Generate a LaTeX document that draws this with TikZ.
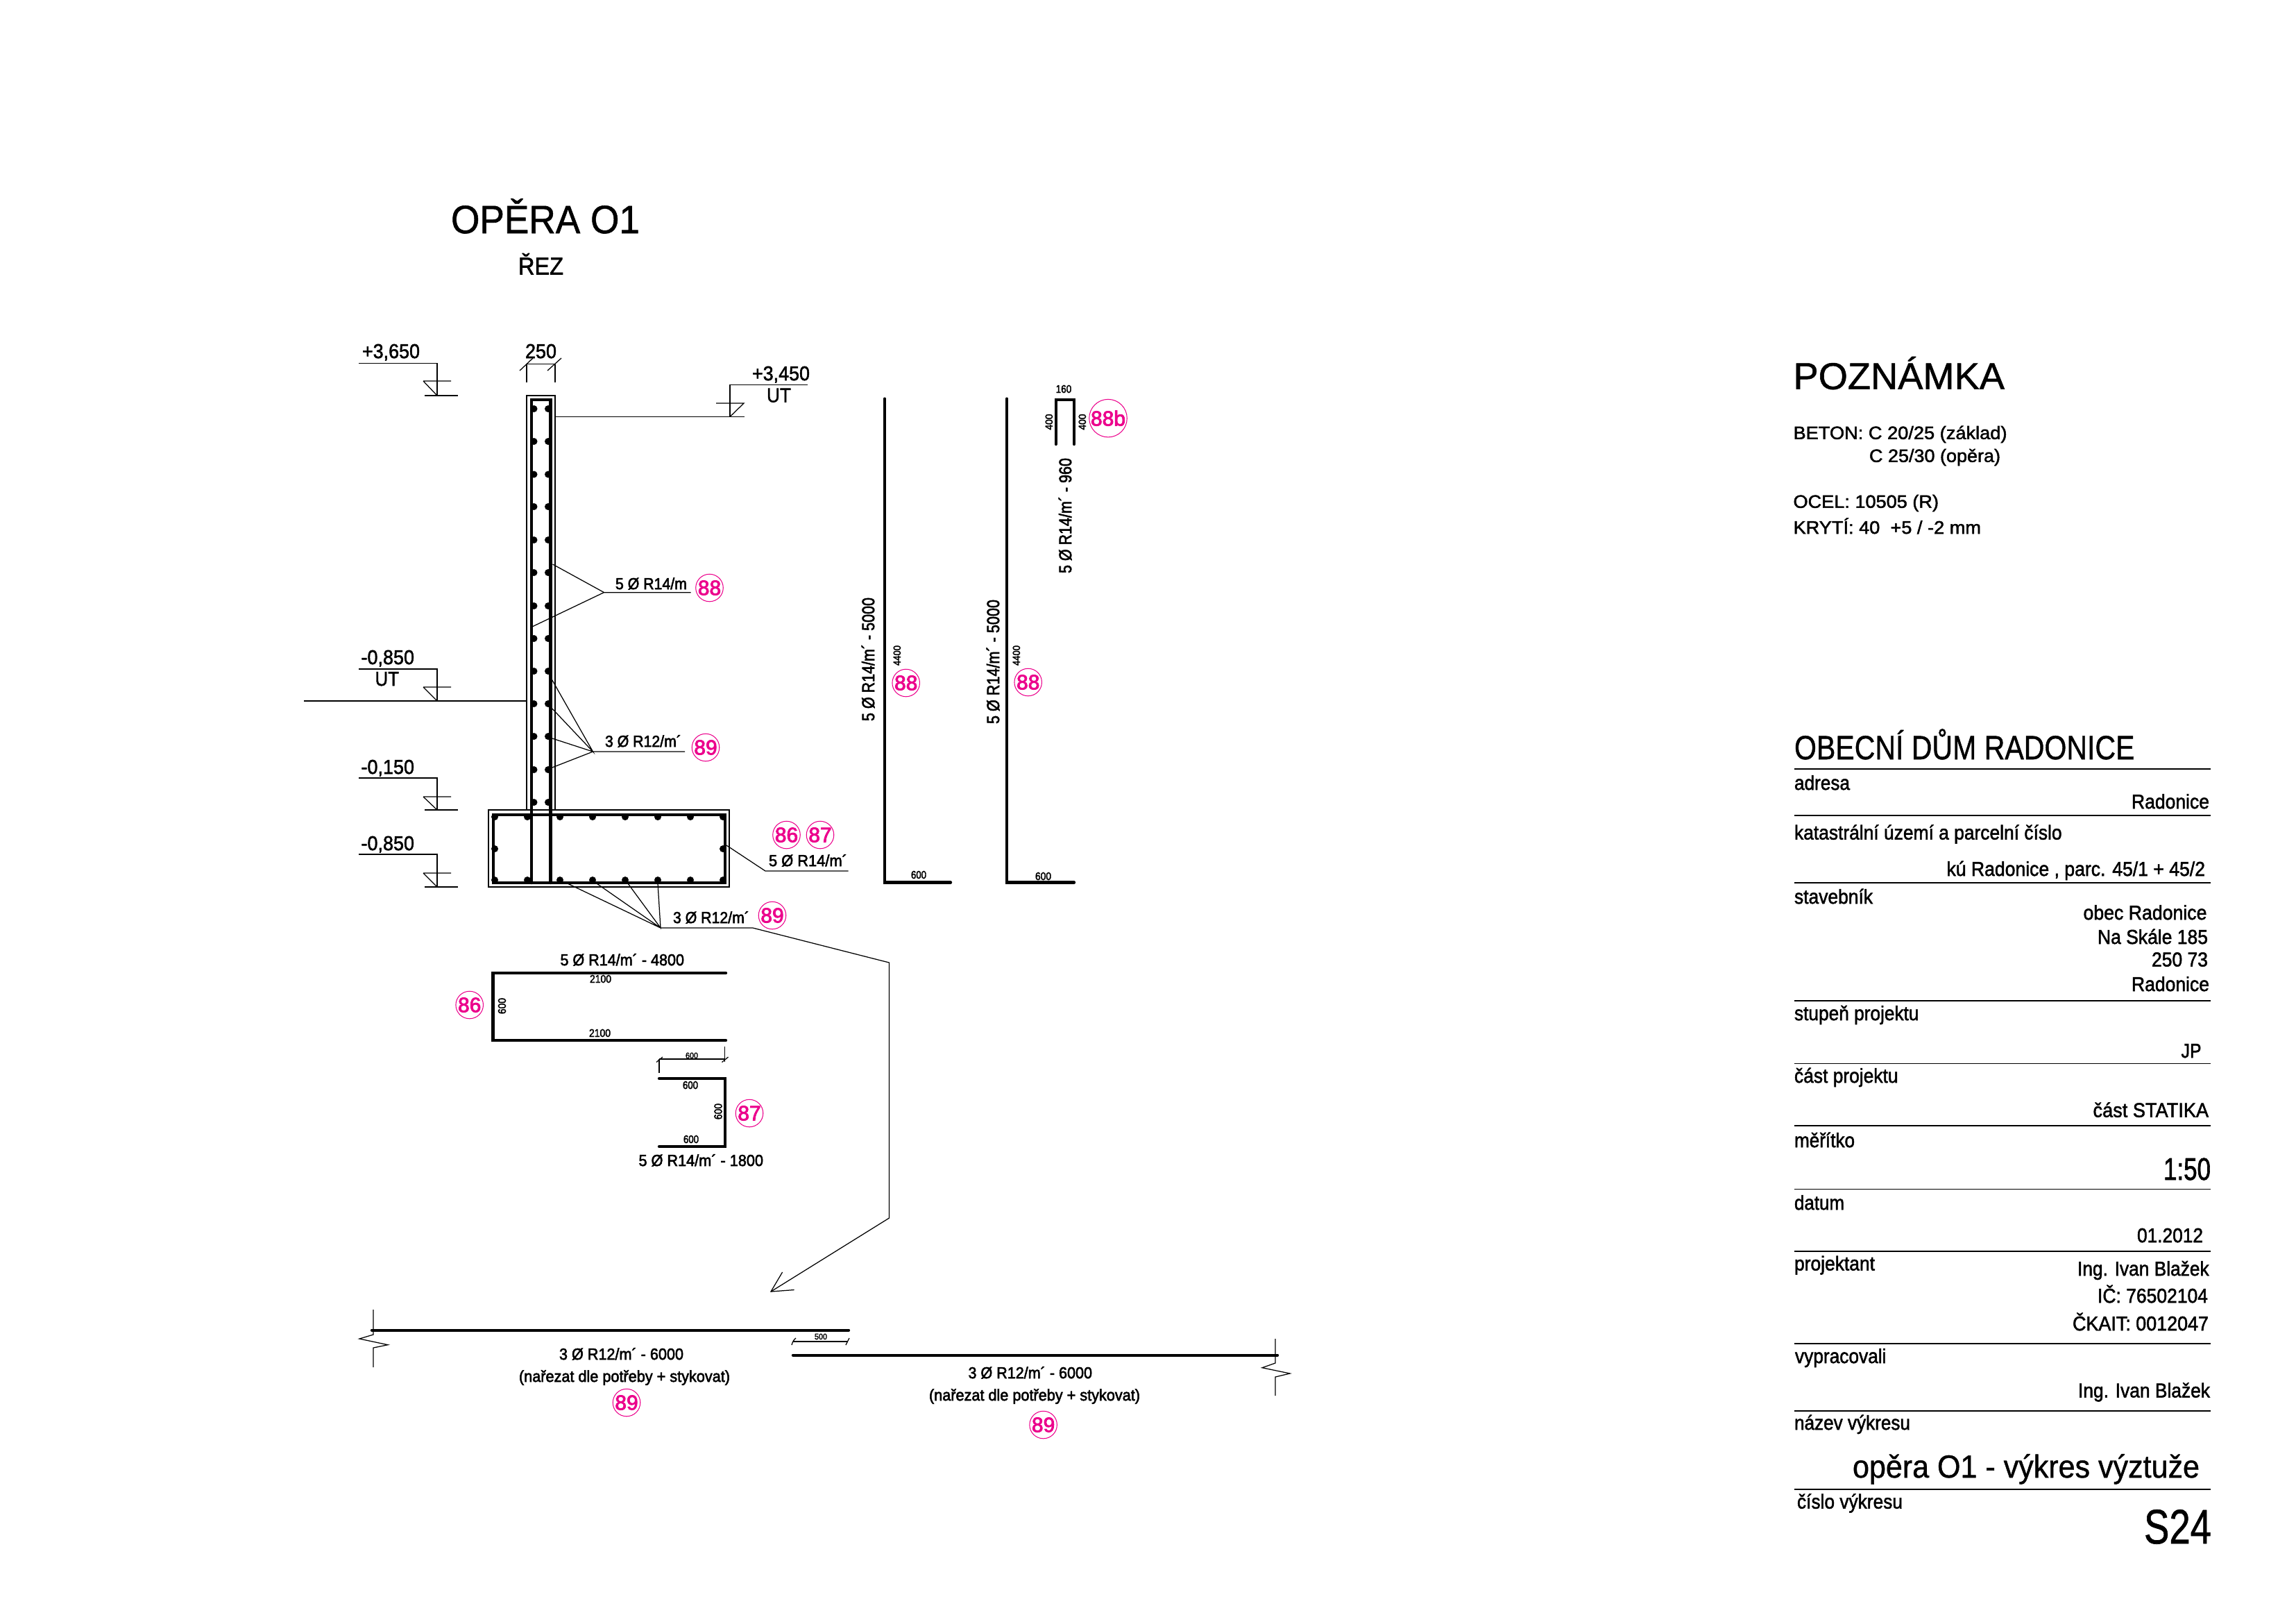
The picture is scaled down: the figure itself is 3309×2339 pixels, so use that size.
\documentclass[tikz,border=0pt]{standalone}
\usepackage{fontspec}
\usepackage{graphicx}
\setmainfont{Liberation Sans}
\newfontfamily\fatfont[FakeBold=2.6]{Liberation Sans}
\newfontfamily\semifont[FakeBold=1.8]{Liberation Sans}
\newfontfamily\largefont[FakeBold=1.0]{Liberation Sans}
\newfontfamily\posfont[FakeBold=2.8]{Liberation Sans}
\definecolor{mag}{HTML}{EC008C}
\newcounter{tn}
% \tx[anchor]{font}{x}{y}{em px}{width px}{text}
\newcommand{\tx}[7][base west]{%
  \stepcounter{tn}%
  \pgfmathsetmacro{\szv}{#5*0.24}%
  \pgfmathsetlengthmacro{\wdv}{#6*0.24}%
  \node[anchor=#1,inner sep=0pt,outer sep=0pt] (t\arabic{tn}) at (#3,#4) {#2\fontsize{\szv}{\szv}\selectfont\resizebox{\wdv}{\height}{#7}};}
\newcommand{\rtx}[7][base west]{%
  \stepcounter{tn}%
  \pgfmathsetmacro{\szv}{#5*0.24}%
  \pgfmathsetlengthmacro{\wdv}{#6*0.24}%
  \node[rotate=90,anchor=#1,inner sep=0pt,outer sep=0pt] (t\arabic{tn}) at (#3,#4) {#2\fontsize{\szv}{\szv}\selectfont\resizebox{\wdv}{\height}{#7}};}
\newcommand{\posn}[4]{% name x y text
  \node[posc] (#1) at (#2,#3) {\posfont\fontsize{7.2}{7.2}\selectfont #4};}
\tikzset{
  thin line/.style={line width=0.3pt,line cap=butt},
  rebar/.style={line width=1.05pt,line cap=round,line join=miter},
  posc/.style={circle,draw=mag,text=mag,line width=0.25pt,minimum size=9.1pt,inner sep=0pt},
  posw/.style={posc,minimum size=13pt},
}
\begin{document}
\begin{tikzpicture}[x=0.24pt,y=-0.24pt]
\useasboundingbox[fill=white] (0,0) rectangle (3309,2339);
% titles
\tx{\largefont}{650}{336}{57}{272}{OPĚRA O1}
\tx{\semifont}{747}{395.5}{35}{65}{ŘEZ}
% level marks
\newcommand{\lvl}[4]{% x of vert, y top, y tick, y base
  \draw[thin line] (517,#2) -- (#1,#2) -- (#1,#4);
  \draw[thin line] (610,#3) -- (650,#3) (610,#3) -- (#1,#4);}
\lvl{630}{523.6}{549}{570}
\draw[thin line] (612,570) -- (660,570);
\tx{\semifont}{522}{516}{29}{83}{+3,650}
\lvl{630}{964}{990}{1010}
\draw[thin line] (438,1010) -- (760,1010);
\tx{\semifont}{520.5}{957}{29}{76.5}{-0,850}
\tx{\semifont}{540.5}{988}{29}{34.5}{UT}
\lvl{630}{1121}{1148}{1167}
\draw[thin line] (612,1167) -- (660,1167);
\tx{\semifont}{520.5}{1115}{29}{76.5}{-0,150}
\lvl{630}{1231}{1258}{1278}
\draw[thin line] (612,1278) -- (660,1278);
\tx{\semifont}{520.5}{1225}{29}{76.5}{-0,850}
% +3,450
\draw[thin line] (1164,554.5) -- (1052,554.5) -- (1052,600.5);
\draw[thin line] (1032,581) -- (1072,581) -- (1052,600.5);
\draw[thin line] (800,600.5) -- (1073,600.5);
\tx{\semifont}{1084}{548}{29}{83}{+3,450}
\tx{\semifont}{1105}{579.5}{29}{35}{UT}
% 250 dimension
\draw[thin line] (759,524.5) -- (800,524.5) (759,524.5) -- (759,551) (800,524.5) -- (800,551);
\draw[thin line] (749,534) -- (768,516) (789,534) -- (809,516);
\tx{\semifont}{757}{516}{29}{45}{250}
% wall and footing outline
\draw[thin line] (759,1167) -- (759,570) -- (800,570) -- (800,1167);
\draw[thin line] (704,1167) rectangle (1051,1278);
% rebars of section
\draw[rebar,line join=miter] (766,1272) -- (766,576) -- (793.5,576) -- (793.5,1272);
\draw[rebar,line join=miter] (711,1174) rectangle (1045,1272);
\foreach \yy in {589,636,683.5,730,778,825,873,920,967,1014,1061,1109,1156}{
  \fill (769.5,\yy) circle (5);
  \fill (790,\yy) circle (5);}
\foreach \xx in {713,760,807,854,901,948,995,1042}{
  \fill (\xx,1177) circle (5);
  \fill (\xx,1268) circle (5);}
\fill (713,1223) circle (5) (1042,1223) circle (5);
% leaders
\draw[thin line] (796.5,813) -- (870.5,853.6) -- (767,903) (870.5,853.6) -- (995.5,853.6);
\tx{\fatfont}{887}{849}{23}{103}{5 Ø R14/m}
\posn{a}{1022.5}{847}{88}
\draw[thin line] (793,975) -- (854.5,1083) -- (793,1018) (793,1063) -- (854.5,1083) -- (793,1107) (854.5,1083) -- (987,1083);
\tx{\fatfont}{872}{1076}{23}{110}{3 Ø R12/m´}
\posn{b}{1017}{1077}{89}
\draw[thin line] (1047,1218) -- (1103,1255) -- (1222.5,1255);
\tx{\fatfont}{1108}{1248}{23}{113}{5 Ø R14/m´}
\posn{c}{1133.5}{1203}{86}
\posn{d}{1182}{1203}{87}
\draw[thin line] (818,1273) -- (952,1337) -- (860,1273) (905,1273) -- (952,1337) -- (948,1273);
\draw[thin line] (952,1337) -- (1085,1337) -- (1281.5,1387) -- (1281.5,1755) -- (1111,1861);
\draw[thin line] (1127.6,1833) -- (1111,1861) -- (1144.6,1858.5);
\tx{\fatfont}{970}{1330}{23}{110}{3 Ø R12/m´}
\posn{e}{1113}{1319}{89}
% bars 86, 87
\draw[rebar] (1046,1402) -- (710.6,1402) -- (710.6,1499) -- (1046,1499);
\tx{\fatfont}{807.5}{1391}{23}{178.5}{5 Ø R14/m´ - 4800}
\tx{\fatfont}{850}{1416}{16}{31}{2100}
\tx{\fatfont}{849}{1494}{16}{31}{2100}
\rtx{\fatfont}{729}{1461}{16}{23}{600}
\posn{f}{676.7}{1448}{86}
\draw[thin line] (950,1526) -- (1044.6,1526) (950,1526) -- (950,1546) (1044.6,1507.5) -- (1044.6,1530);
\draw[thin line] (946,1530.5) -- (955,1523) (1040.5,1530.5) -- (1049.5,1523);
\tx{\fatfont}{988}{1525}{12}{18}{600}
\draw[rebar] (950,1554) -- (1045,1554) -- (1045,1652) -- (950,1652);
\tx{\fatfont}{984}{1569}{16}{22}{600}
\tx{\fatfont}{985}{1647}{16}{22}{600}
\rtx{\fatfont}{1040.5}{1613}{16}{23}{600}
\posn{g}{1080}{1604}{87}
\tx{\fatfont}{920.5}{1680}{23}{179.5}{5 Ø R14/m´ - 1800}
% long bars
\draw[rebar] (536,1916.7) -- (1223,1916.7);
\draw[rebar] (1143,1952.7) -- (1841,1952.7);
\draw[thin line] (538,1887) -- (538,1923) -- (518,1929) -- (559,1937.7) -- (538,1942) -- (538,1970);
\draw[thin line] (1838,1929) -- (1838,1964) -- (1819,1970.7) -- (1859,1979) -- (1838,1984) -- (1838,2011);
\draw[thin line] (1143,1933) -- (1221,1933);
\draw[thin line] (1141,1938) .. controls (1142,1934) and (1144,1930) .. (1147,1928);
\draw[thin line] (1219,1938) -- (1224,1928);
\tx{\fatfont}{1174}{1930}{12}{18}{500}
\tx{\fatfont}{806}{1959}{23}{179}{3 Ø R12/m´ - 6000}
\tx{\fatfont}{748}{1991}{23}{304}{(nařezat dle potřeby + stykovat)}
\posn{h}{903}{2021}{89}
\tx{\fatfont}{1395.5}{1986}{23}{178.5}{3 Ø R12/m´ - 6000}
\tx{\fatfont}{1339}{2018}{23}{304}{(nařezat dle potřeby + stykovat)}
\posn{i}{1503.6}{2053}{89}
% vertical bars
\draw[rebar] (1275,574.6) -- (1275,1271.5) -- (1370,1271.5);
\rtx{\fatfont}{1260}{1039}{25}{178}{5 Ø R14/m´ - 5000}
\rtx{\fatfont}{1298}{959}{15}{29}{4400}
\posn{j}{1305.7}{984}{88}
\tx{\fatfont}{1313}{1266}{16}{22}{600}
\draw[rebar] (1451,574.6) -- (1451,1271.5) -- (1548,1271.5);
\rtx{\fatfont}{1440}{1043}{25}{179}{5 Ø R14/m´ - 5000}
\rtx{\fatfont}{1470}{959}{15}{29}{4400}
\posn{k}{1481.7}{983}{88}
\tx{\fatfont}{1492}{1268}{16}{23}{600}
\draw[rebar] (1521.7,640) -- (1521.7,576) -- (1548,576) -- (1548,640);
\tx{\fatfont}{1521.7}{566}{16}{22.5}{160}
\rtx{\fatfont}{1517}{619.5}{15}{23}{400}
\rtx{\fatfont}{1565}{619.5}{15}{23}{400}
\node[posw] (l) at (1597,602.6) {\posfont\fontsize{7.2}{7.2}\selectfont 88b};
\rtx{\fatfont}{1544}{826}{25}{166}{5 Ø R14/m´ - 960}
% note
\tx{\largefont}{2584.5}{560.7}{54}{304.5}{POZNÁMKA}
\tx{\semifont}{2584.5}{632.7}{26}{308}{BETON: C 20/25 (základ)}
\tx{\semifont}{2694}{665.7}{26}{189}{C 25/30 (opěra)}
\tx{\semifont}{2584.5}{731.7}{26}{209.5}{OCEL: 10505 (R)}
\tx{\semifont}{2584.5}{769}{26}{270.5}{KRYTÍ: 40\ \ +5 / -2 mm}
% title block
\tx{\largefont}{2586}{1094}{48.5}{490.5}{OBECNÍ DŮM RADONICE}
\foreach \yy in {1108,1175,1272,1442,1532.5,1622,1713.5,1803,1936,2033,2146}
  \draw[thin line] (2586,\yy) -- (3186,\yy);
\tx{\semifont}{2586}{1138}{29}{80}{adresa}
\tx[base east]{\semifont}{3184}{1165}{29}{112}{Radonice}
\tx{\semifont}{2586}{1209.6}{29}{385.6}{katastrální území a parcelní číslo}
\tx{\semifont}{2805.5}{1262}{29}{372.5}{kú Radonice , parc. 45/1 + 45/2}
\tx{\semifont}{2586}{1302}{29}{113}{stavebník}
\tx[base east]{\semifont}{3180.5}{1325}{29}{178}{obec Radonice}
\tx[base east]{\semifont}{3182}{1360}{29}{159}{Na Skále 185}
\tx[base east]{\semifont}{3182}{1392.5}{29}{81}{250 73}
\tx[base east]{\semifont}{3184}{1428}{29}{112}{Radonice}
\tx{\semifont}{2586}{1470}{29}{179.5}{stupeň projektu}
\tx[base east]{\semifont}{3172.5}{1524}{29}{29}{JP}
\tx{\semifont}{2586}{1560}{29}{149.6}{část projektu}
\tx[base east]{\semifont}{3183}{1609.6}{29}{166.5}{část STATIKA}
\tx{\semifont}{2586}{1653}{29}{87}{měřítko}
\tx[base east]{\semifont}{3186}{1700}{45}{68}{1:50}
\tx{\semifont}{2586}{1743}{29}{72}{datum}
\tx[base east]{\semifont}{3175}{1790}{29}{95}{01.2012}
\tx{\semifont}{2586}{1830.5}{29}{116}{projektant}
\tx[base east]{\semifont}{3183.6}{1838}{29}{189.6}{Ing. Ivan Blažek}
\tx[base east]{\semifont}{3182}{1877}{29}{159}{IČ: 76502104}
\tx[base east]{\semifont}{3183}{1917}{29}{196}{ČKAIT: 0012047}
\tx{\semifont}{2587}{1964}{29}{131.5}{vypracovali}
\tx[base east]{\semifont}{3185}{2013.5}{29}{190}{Ing. Ivan Blažek}
\tx{\semifont}{2586}{2060}{29}{167}{název výkresu}
\tx{\largefont}{2670}{2129}{46}{500}{opěra O1 - výkres výztuže}
\tx{\semifont}{2590}{2173.6}{29}{152}{číslo výkresu}
\tx[base east]{\largefont}{3187}{2224}{70}{97}{S24}
\end{tikzpicture}
\end{document}
